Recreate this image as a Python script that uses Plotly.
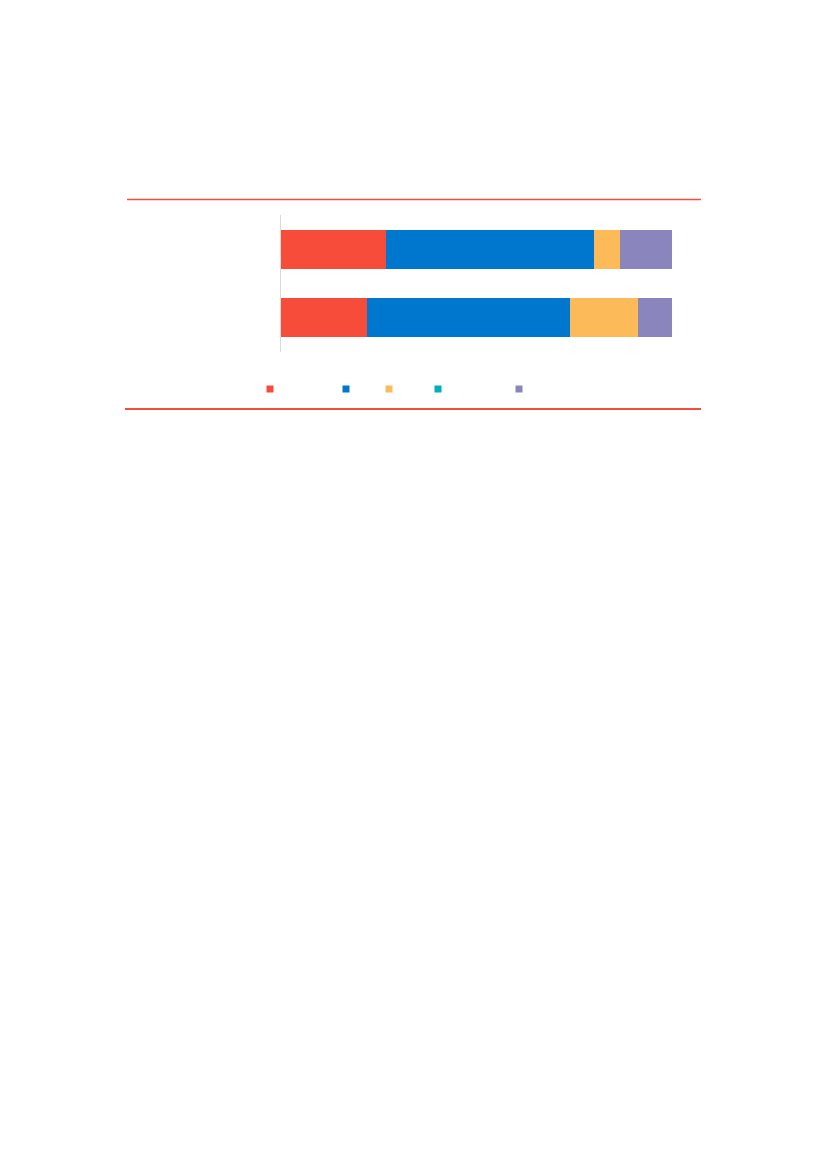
import plotly.graph_objects as go

categories = ["Category 1", "Category 2"]
series_names = ["S1", "S2", "S3", "S4", "S5"]
s1 = [26.9, 22.0]
s2 = [53.2, 51.9]
s3 = [6.6, 17.4]
s4 = [0.0, 0.0]
s5 = [13.3, 8.7]
values = [s1, s2, s3, s4, s5]
colors = ["#F84C3A", "#0077CF", "#FDBA58", "#00AFB9", "#8A85BC"]

W, H = 827, 1169
OFF_X, OFF_Y = 7, 8  # page offset of the figure
L, R, T, B = 280 - OFF_X, 671 - OFF_X, 215 - OFF_Y, 352 - OFF_Y


def px_x(p):
    return (p - OFF_X - L) / (R - L)


def px_y(p):
    return (B - (p - OFF_Y)) / (B - T)


fig = go.Figure()
for name, vals, col in zip(series_names, values, colors):
    fig.add_trace(go.Bar(y=categories, x=vals, orientation="h", name=name,
                         marker=dict(color=col, line=dict(width=0)),
                         showlegend=False))

legend_px = [269, 345, 388, 437, 518]
layout_legends = {}
for i, (name, col, lx) in enumerate(zip(series_names, colors, legend_px)):
    key = "legend" if i == 0 else f"legend{i+1}"
    fig.add_trace(go.Scatter(x=[None], y=[None], mode="markers", name=" ",
                             marker=dict(symbol="square", size=7, color=col),
                             legend=key, showlegend=True, hoverinfo="skip"))
    layout_legends[key] = dict(x=px_x(lx - 20), y=px_y(389), xanchor="left",
                               yanchor="middle", bgcolor="rgba(0,0,0,0)",
                               font=dict(size=10, color="#595959"),
                               itemsizing="trace")

fig.update_layout(
    width=W, height=H,
    margin=dict(l=L, r=W - R, t=T, b=H - B, pad=0),
    paper_bgcolor="white", plot_bgcolor="white",
    barmode="stack", bargap=0.43,
    xaxis=dict(range=[0, 100], showgrid=False, zeroline=False,
               showticklabels=False, showline=False, ticks=""),
    yaxis=dict(autorange="reversed", showgrid=False, zeroline=False,
               showticklabels=False, showline=True, linecolor="#D9D9D9",
               linewidth=1, ticks=""),
    shapes=[
        dict(type="line", xref="paper", yref="paper", x0=px_x(126), x1=px_x(700),
             y0=px_y(199.5), y1=px_y(199.5), line=dict(color="#F84C3A", width=1.5)),
        dict(type="line", xref="paper", yref="paper", x0=px_x(124), x1=px_x(700),
             y0=px_y(409), y1=px_y(409), line=dict(color="#F84C3A", width=2)),
    ],
    **layout_legends,
)

fig.write_html("out.html")
